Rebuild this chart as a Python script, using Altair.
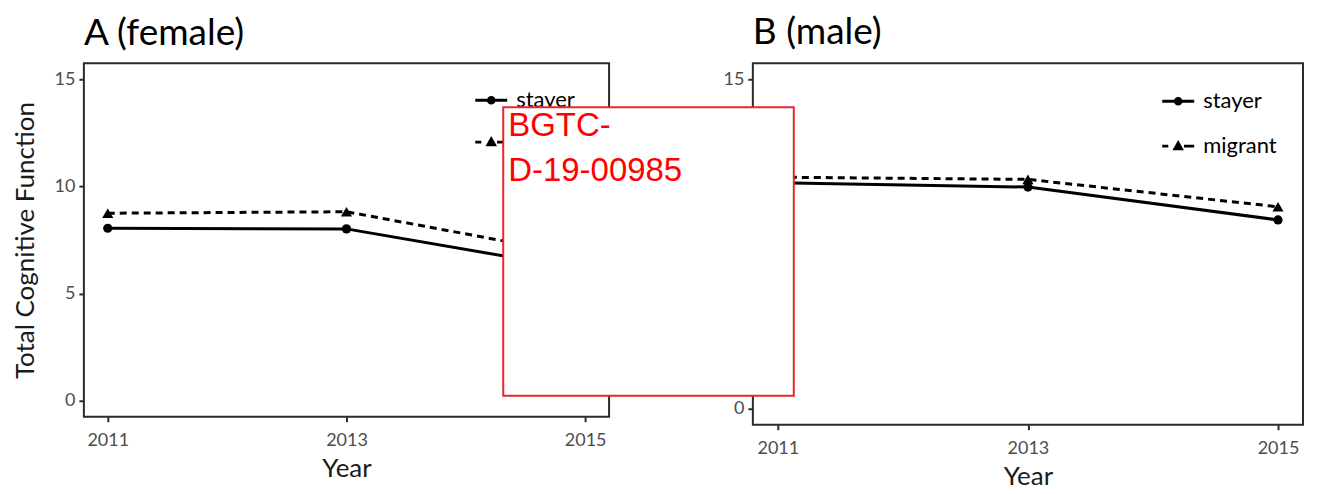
import altair as alt
import pandas as pd

years = [2011, 2013, 2015]
groups = ["stayer", "migrant"]
female_stayer = [8.05, 8.02, 6.1]
female_migrant = [8.75, 8.82, 6.75]
male_stayer = [10.3, 10.1, 8.6]
male_migrant = [10.55, 10.45, 9.2]
y_ticks = [0, 5, 10, 15]
stamp_lines = ["BGTC-\nD-19-00985"]

FONT = "Lato"


def make_df(stayer, migrant):
    rows = []
    for g, vals in zip(groups, [stayer, migrant]):
        for yr, v in zip(years, vals):
            rows.append({"year": yr, "value": v, "group": g})
    return pd.DataFrame(rows)


# legend glyphs drawn as filled shapes: line pieces as thin bars plus the marker
STAYER_PATH = (
    "M-1,-0.09L-0.24,-0.09L-0.24,0.09L-1,0.09Z"
    "M0.24,-0.09L1,-0.09L1,0.09L0.24,0.09Z"
    "M0.27,0A0.27,0.27,0,1,1,-0.27,0A0.27,0.27,0,1,1,0.27,0Z"
)
MIGRANT_PATH = (
    "M-1,-0.09L-0.62,-0.09L-0.62,0.09L-1,0.09Z"
    "M0.36,-0.09L1,-0.09L1,0.09L0.36,0.09Z"
    "M0,-0.38L0.36,0.26L-0.36,0.26Z"
)


def panel(df, title, ytitle, w, h, lx, ly, row_pad, title_offset, with_stamp=False):
    base = alt.Chart(df)
    x = alt.X(
        "year:Q",
        scale=alt.Scale(domain=[2010.8, 2015.2], nice=False, zero=False),
        axis=alt.Axis(values=years, format="d", title="Year"),
    )
    yscale = alt.Scale(domain=[-0.75, 15.75], nice=False, zero=False)
    yaxis = alt.Axis(values=y_ticks, title=ytitle) if ytitle else alt.Axis(values=y_ticks, title=None)
    y = alt.Y("value:Q", scale=yscale, axis=yaxis)

    line_stayer = (
        base.transform_filter(alt.datum.group == "stayer")
        .mark_line(color="black", strokeWidth=3)
        .encode(x=x, y=y)
    )
    line_migrant = (
        base.transform_filter(alt.datum.group == "migrant")
        .mark_line(color="black", strokeWidth=3, strokeDash=[7, 5])
        .encode(x=x, y=y)
    )
    pts_stayer = (
        base.transform_filter(alt.datum.group == "stayer")
        .mark_point(filled=True, color="black", opacity=1, shape="circle", size=85)
        .encode(x=x, y=y)
    )
    pts_migrant = (
        base.transform_filter(alt.datum.group == "migrant")
        .mark_point(filled=True, color="black", opacity=1, shape="triangle-up", size=125)
        .encode(x=x, y=y)
    )
    # legend-only layer: its points sit far outside the plot and are clipped away
    legend_layer = (
        base.transform_calculate(hidden="-1000")
        .mark_point(filled=True, color="black", opacity=1, clip=True)
        .encode(
            x=x,
            y=alt.Y("hidden:Q", scale=yscale, axis=yaxis),
            shape=alt.Shape(
                "group:N",
                scale=alt.Scale(domain=groups, range=[STAYER_PATH, MIGRANT_PATH]),
                legend=alt.Legend(
                    title=None,
                    orient="none",
                    legendX=lx,
                    legendY=ly,
                    symbolSize=1024,
                    symbolFillColor="black",
                    symbolOpacity=1,
                    labelFont=FONT,
                    labelFontSize=22,
                    labelColor="black",
                    labelOffset=8,
                    rowPadding=row_pad,
                    padding=0,
                ),
            ),
        )
    )
    layers = [line_stayer, line_migrant, pts_stayer, pts_migrant, legend_layer]
    if with_stamp:
        stamp_df = pd.DataFrame({"stamp": stamp_lines})
        box = alt.Chart(stamp_df).mark_rect(
            fill="white", stroke="#e8262d", strokeWidth=2
        ).encode(
            x=alt.value(-250), x2=alt.value(41), y=alt.value(44), y2=alt.value(333)
        )
        txt = alt.Chart(stamp_df).mark_text(
            align="left",
            baseline="alphabetic",
            font="Liberation Sans",
            fontSize=33,
            color="#ff0000",
            lineBreak="\n",
            lineHeight=45,
        ).encode(x=alt.value(-245), y=alt.value(73), text="stamp:N")
        layers += [box, txt]
    return alt.layer(*layers).properties(
        width=w,
        height=h,
        title=alt.TitleParams(
            title,
            anchor="start",
            frame="group",
            font=FONT,
            fontSize=37,
            fontWeight="normal",
            color="black",
            offset=title_offset,
        ),
    )


dfA = make_df(female_stayer, female_migrant)
dfB = make_df(male_stayer, male_migrant)

A = panel(dfA, "A (female)", "Total Cognitive Function", 526, 354, 391, 20, 14, 10)
B = panel(dfB, "B (male)", None, 551, 362, 409, 21, 17, 11, with_stamp=True)

chart = (
    alt.hconcat(A, B, spacing=144, bounds="flush")
    .resolve_scale(shape="independent")
    .resolve_legend(shape="independent")
    .properties(padding={"left": 3, "top": 5, "right": 5, "bottom": 5})
    .configure_view(stroke="#2b2b2b", strokeWidth=2)
    .configure_axis(
        grid=False,
        domain=False,
        ticks=True,
        tickColor="#2b2b2b",
        tickWidth=2,
        tickSize=5,
        labelFont=FONT,
        labelFontSize=18,
        labelColor="#4d4d4d",
        labelPadding=10,
        titleFont=FONT,
        titleFontSize=26,
        titleFontWeight="normal",
        titleColor="#1a1a1a",
        titlePadding=6,
    )
    .configure_axisY(titlePadding=16, labelPadding=4)
)

chart.save("out.html", embed_options={"renderer": "svg", "actions": False})
